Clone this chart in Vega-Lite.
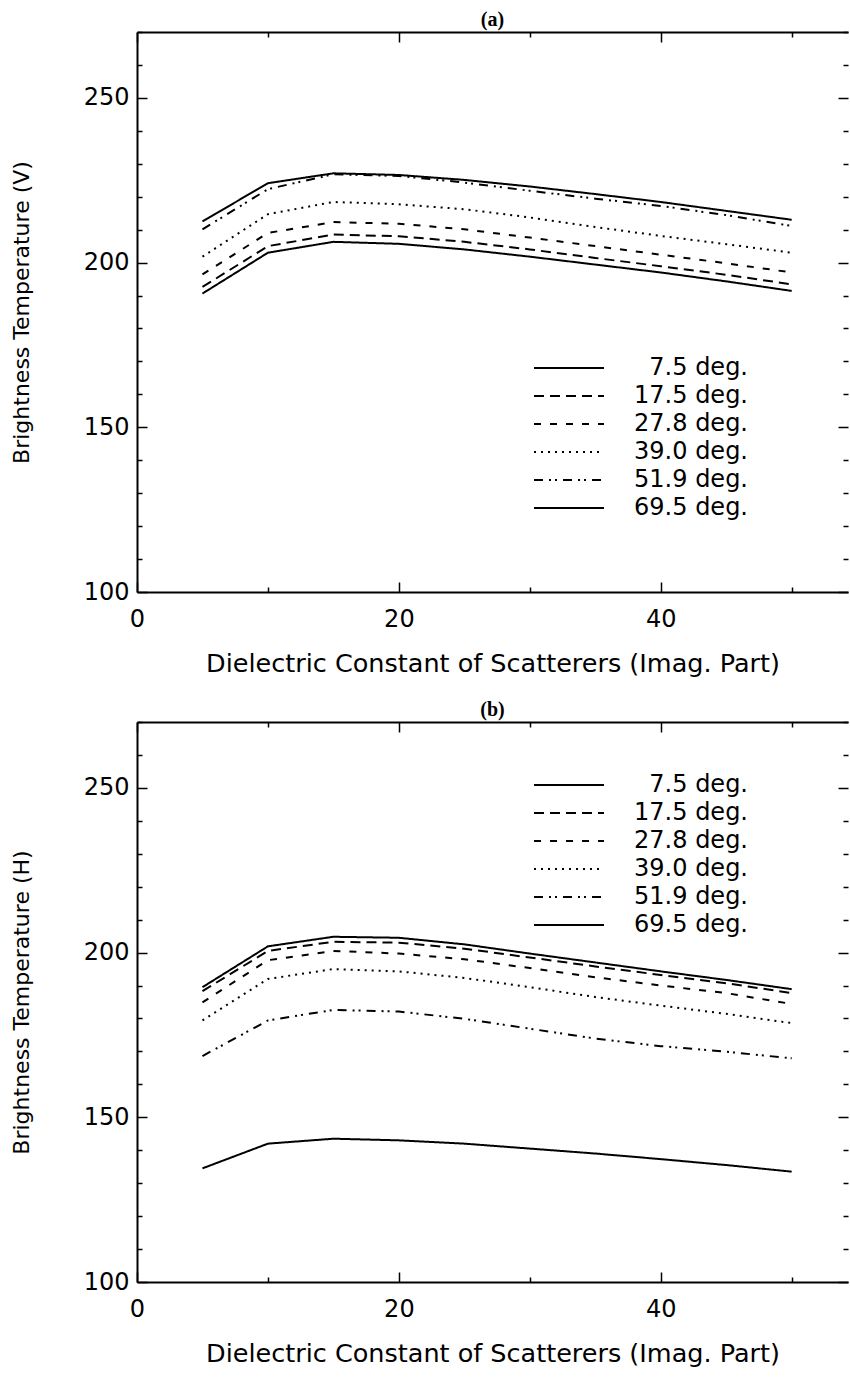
{
  "$schema": "https://vega.github.io/schema/vega-lite/v6.json",
  "padding": {"left": 10, "top": 10, "right": 0, "bottom": 0},
  "spacing": 23,
  "resolve": {"scale": {"strokeDash": "independent"}, "legend": {"strokeDash": "independent"}},
  "config": {
    "font": "DejaVu Sans",
    "view": {"stroke": null},
    "axis": {"grid": false, "domainColor": "black", "domainWidth": 2, "tickColor": "black", "tickWidth": 1.5, "labelColor": "black", "titleColor": "black", "labelFont": "DejaVu Sans", "titleFont": "DejaVu Sans", "labelFontSize": 24, "titleFontSize": 25.5, "titleFontWeight": "normal", "labelPadding": 18},
    "legend": {"orient": "none", "title": null, "symbolType": "M-5,0H5", "symbolSize": 196, "symbolStrokeWidth": 2, "symbolStrokeColor": "black", "symbolFillColor": "transparent", "labelFont": "DejaVu Sans", "labelFontSize": 24, "labelColor": "black", "labelAlign": "right", "labelOffset": 167, "rowPadding": 4, "labelLimit": 300},
    "title": {"font": "Liberation Serif", "fontWeight": "bold", "fontSize": 20, "offset": 1, "anchor": "middle", "color": "black"}
  },
  "datasets": {
    "V": [
      {"angle": "69.5 deg.", "e": 5, "tb": 212.5}, {"angle": "69.5 deg.", "e": 10, "tb": 224.1}, {"angle": "69.5 deg.", "e": 15, "tb": 227.1}, {"angle": "69.5 deg.", "e": 20, "tb": 226.6}, {"angle": "69.5 deg.", "e": 25, "tb": 225.1}, {"angle": "69.5 deg.", "e": 30, "tb": 223.1}, {"angle": "69.5 deg.", "e": 35, "tb": 220.8}, {"angle": "69.5 deg.", "e": 40, "tb": 218.4}, {"angle": "69.5 deg.", "e": 45, "tb": 215.7}, {"angle": "69.5 deg.", "e": 50, "tb": 213.0},
      {"angle": "51.9 deg.", "e": 5, "tb": 210.1}, {"angle": "51.9 deg.", "e": 10, "tb": 222.3}, {"angle": "51.9 deg.", "e": 15, "tb": 226.8}, {"angle": "51.9 deg.", "e": 20, "tb": 226.3}, {"angle": "51.9 deg.", "e": 25, "tb": 224.3}, {"angle": "51.9 deg.", "e": 30, "tb": 221.8}, {"angle": "51.9 deg.", "e": 35, "tb": 219.4}, {"angle": "51.9 deg.", "e": 40, "tb": 217.2}, {"angle": "51.9 deg.", "e": 45, "tb": 214.4}, {"angle": "51.9 deg.", "e": 50, "tb": 211.1},
      {"angle": "39.0 deg.", "e": 5, "tb": 201.8}, {"angle": "39.0 deg.", "e": 10, "tb": 214.7}, {"angle": "39.0 deg.", "e": 15, "tb": 218.4}, {"angle": "39.0 deg.", "e": 20, "tb": 217.7}, {"angle": "39.0 deg.", "e": 25, "tb": 216.2}, {"angle": "39.0 deg.", "e": 30, "tb": 213.7}, {"angle": "39.0 deg.", "e": 35, "tb": 210.8}, {"angle": "39.0 deg.", "e": 40, "tb": 208.1}, {"angle": "39.0 deg.", "e": 45, "tb": 205.6}, {"angle": "39.0 deg.", "e": 50, "tb": 203.0},
      {"angle": "27.8 deg.", "e": 5, "tb": 196.4}, {"angle": "27.8 deg.", "e": 10, "tb": 209.0}, {"angle": "27.8 deg.", "e": 15, "tb": 212.3}, {"angle": "27.8 deg.", "e": 20, "tb": 211.8}, {"angle": "27.8 deg.", "e": 25, "tb": 210.1}, {"angle": "27.8 deg.", "e": 30, "tb": 207.6}, {"angle": "27.8 deg.", "e": 35, "tb": 205.0}, {"angle": "27.8 deg.", "e": 40, "tb": 202.4}, {"angle": "27.8 deg.", "e": 45, "tb": 199.8}, {"angle": "27.8 deg.", "e": 50, "tb": 197.0},
      {"angle": "17.5 deg.", "e": 5, "tb": 192.6}, {"angle": "17.5 deg.", "e": 10, "tb": 205.0}, {"angle": "17.5 deg.", "e": 15, "tb": 208.5}, {"angle": "17.5 deg.", "e": 20, "tb": 208.0}, {"angle": "17.5 deg.", "e": 25, "tb": 206.3}, {"angle": "17.5 deg.", "e": 30, "tb": 204.0}, {"angle": "17.5 deg.", "e": 35, "tb": 201.4}, {"angle": "17.5 deg.", "e": 40, "tb": 198.9}, {"angle": "17.5 deg.", "e": 45, "tb": 196.3}, {"angle": "17.5 deg.", "e": 50, "tb": 193.4},
      {"angle": "7.5 deg.", "e": 5, "tb": 190.6}, {"angle": "7.5 deg.", "e": 10, "tb": 203.0}, {"angle": "7.5 deg.", "e": 15, "tb": 206.3}, {"angle": "7.5 deg.", "e": 20, "tb": 205.7}, {"angle": "7.5 deg.", "e": 25, "tb": 204.0}, {"angle": "7.5 deg.", "e": 30, "tb": 201.8}, {"angle": "7.5 deg.", "e": 35, "tb": 199.4}, {"angle": "7.5 deg.", "e": 40, "tb": 197.0}, {"angle": "7.5 deg.", "e": 45, "tb": 194.3}, {"angle": "7.5 deg.", "e": 50, "tb": 191.4}
    ],
    "H": [
      {"angle": "7.5 deg.", "e": 5, "tb": 189.5}, {"angle": "7.5 deg.", "e": 10, "tb": 201.9}, {"angle": "7.5 deg.", "e": 15, "tb": 204.8}, {"angle": "7.5 deg.", "e": 20, "tb": 204.5}, {"angle": "7.5 deg.", "e": 25, "tb": 202.5}, {"angle": "7.5 deg.", "e": 30, "tb": 199.7}, {"angle": "7.5 deg.", "e": 35, "tb": 197.0}, {"angle": "7.5 deg.", "e": 40, "tb": 194.3}, {"angle": "7.5 deg.", "e": 45, "tb": 191.7}, {"angle": "7.5 deg.", "e": 50, "tb": 188.9},
      {"angle": "17.5 deg.", "e": 5, "tb": 188.3}, {"angle": "17.5 deg.", "e": 10, "tb": 200.5}, {"angle": "17.5 deg.", "e": 15, "tb": 203.3}, {"angle": "17.5 deg.", "e": 20, "tb": 203.0}, {"angle": "17.5 deg.", "e": 25, "tb": 201.2}, {"angle": "17.5 deg.", "e": 30, "tb": 198.5}, {"angle": "17.5 deg.", "e": 35, "tb": 195.8}, {"angle": "17.5 deg.", "e": 40, "tb": 193.2}, {"angle": "17.5 deg.", "e": 45, "tb": 190.7}, {"angle": "17.5 deg.", "e": 50, "tb": 187.7},
      {"angle": "27.8 deg.", "e": 5, "tb": 184.9}, {"angle": "27.8 deg.", "e": 10, "tb": 197.7}, {"angle": "27.8 deg.", "e": 15, "tb": 200.5}, {"angle": "27.8 deg.", "e": 20, "tb": 199.7}, {"angle": "27.8 deg.", "e": 25, "tb": 198.0}, {"angle": "27.8 deg.", "e": 30, "tb": 195.3}, {"angle": "27.8 deg.", "e": 35, "tb": 192.5}, {"angle": "27.8 deg.", "e": 40, "tb": 190.0}, {"angle": "27.8 deg.", "e": 45, "tb": 187.7}, {"angle": "27.8 deg.", "e": 50, "tb": 184.4},
      {"angle": "39.0 deg.", "e": 5, "tb": 179.4}, {"angle": "39.0 deg.", "e": 10, "tb": 192.0}, {"angle": "39.0 deg.", "e": 15, "tb": 195.0}, {"angle": "39.0 deg.", "e": 20, "tb": 194.3}, {"angle": "39.0 deg.", "e": 25, "tb": 192.3}, {"angle": "39.0 deg.", "e": 30, "tb": 189.5}, {"angle": "39.0 deg.", "e": 35, "tb": 186.5}, {"angle": "39.0 deg.", "e": 40, "tb": 183.9}, {"angle": "39.0 deg.", "e": 45, "tb": 181.4}, {"angle": "39.0 deg.", "e": 50, "tb": 178.6},
      {"angle": "51.9 deg.", "e": 5, "tb": 168.6}, {"angle": "51.9 deg.", "e": 10, "tb": 179.4}, {"angle": "51.9 deg.", "e": 15, "tb": 182.6}, {"angle": "51.9 deg.", "e": 20, "tb": 182.1}, {"angle": "51.9 deg.", "e": 25, "tb": 179.9}, {"angle": "51.9 deg.", "e": 30, "tb": 176.9}, {"angle": "51.9 deg.", "e": 35, "tb": 173.9}, {"angle": "51.9 deg.", "e": 40, "tb": 171.6}, {"angle": "51.9 deg.", "e": 45, "tb": 169.9}, {"angle": "51.9 deg.", "e": 50, "tb": 167.9},
      {"angle": "69.5 deg.", "e": 5, "tb": 134.5}, {"angle": "69.5 deg.", "e": 10, "tb": 142.0}, {"angle": "69.5 deg.", "e": 15, "tb": 143.5}, {"angle": "69.5 deg.", "e": 20, "tb": 143.0}, {"angle": "69.5 deg.", "e": 25, "tb": 142.0}, {"angle": "69.5 deg.", "e": 30, "tb": 140.5}, {"angle": "69.5 deg.", "e": 35, "tb": 139.0}, {"angle": "69.5 deg.", "e": 40, "tb": 137.3}, {"angle": "69.5 deg.", "e": 45, "tb": 135.5}, {"angle": "69.5 deg.", "e": 50, "tb": 133.5}
    ]
  },
  "vconcat": [
    {
      "title": {"text": "(a)"},
      "width": 711,
      "height": 560,
      "data": {"name": "V"},
      "layer": [
        {
          "mark": {"type": "line", "strokeWidth": 2, "color": "black"},
          "encoding": {
            "x": {"field": "e", "type": "quantitative", "scale": {"domain": [0, 54.3], "nice": false, "zero": false},
              "axis": {"orient": "bottom", "values": [0, 10, 20, 30, 40, 50], "labelExpr": "datum.value % 20 === 0 ? datum.label : ''", "tickSize": {"condition": {"test": "datum.value % 20 === 0", "value": -10}, "value": -5}, "labelFlush": false, "labelPadding": 25, "title": "Dielectric Constant of Scatterers (Imag. Part)", "titlePadding": 20}},
            "y": {"field": "tb", "type": "quantitative", "scale": {"domain": [100, 270], "nice": false, "zero": false},
              "axis": {"orient": "left", "values": [100, 110, 120, 130, 140, 150, 160, 170, 180, 190, 200, 210, 220, 230, 240, 250, 260, 270], "labelExpr": "datum.value % 50 === 0 ? datum.label : ''", "tickSize": {"condition": {"test": "datum.value % 50 === 0", "value": -10}, "value": -5}, "title": "Brightness Temperature (V)", "titleFontSize": 22, "titlePadding": 50}},
            "strokeDash": {"field": "angle", "type": "nominal",
              "scale": {"domain": ["7.5 deg.", "17.5 deg.", "27.8 deg.", "39.0 deg.", "51.9 deg.", "69.5 deg."], "range": [[1, 0], [10, 6], [7, 9], [2, 5], [9, 6, 2, 4, 2, 6], [1, 0]]},
              "legend": {"legendX": 420, "legendY": 324}}
          }
        },
        {
          "mark": {"type": "line", "opacity": 0},
          "encoding": {
            "x": {"field": "e", "type": "quantitative", "axis": {"orient": "top", "values": [0, 10, 20, 30, 40, 50], "labels": false, "title": null, "tickSize": {"condition": {"test": "datum.value % 20 === 0", "value": -10}, "value": -5}}},
            "y": {"field": "tb", "type": "quantitative", "axis": {"orient": "right", "values": [100, 110, 120, 130, 140, 150, 160, 170, 180, 190, 200, 210, 220, 230, 240, 250, 260, 270], "labels": false, "title": null, "domain": false, "tickSize": {"condition": {"test": "datum.value % 50 === 0", "value": -10}, "value": -5}}},
            "detail": {"field": "angle"}
          }
        }
      ],
      "resolve": {"axis": {"x": "independent", "y": "independent"}}
    },
    {
      "title": {"text": "(b)"},
      "width": 711,
      "height": 560,
      "data": {"name": "H"},
      "layer": [
        {
          "mark": {"type": "line", "strokeWidth": 2, "color": "black"},
          "encoding": {
            "x": {"field": "e", "type": "quantitative", "scale": {"domain": [0, 54.3], "nice": false, "zero": false},
              "axis": {"orient": "bottom", "values": [0, 10, 20, 30, 40, 50], "labelExpr": "datum.value % 20 === 0 ? datum.label : ''", "tickSize": {"condition": {"test": "datum.value % 20 === 0", "value": -10}, "value": -5}, "labelFlush": false, "labelPadding": 25, "title": "Dielectric Constant of Scatterers (Imag. Part)", "titlePadding": 20}},
            "y": {"field": "tb", "type": "quantitative", "scale": {"domain": [100, 270], "nice": false, "zero": false},
              "axis": {"orient": "left", "values": [100, 110, 120, 130, 140, 150, 160, 170, 180, 190, 200, 210, 220, 230, 240, 250, 260, 270], "labelExpr": "datum.value % 50 === 0 ? datum.label : ''", "tickSize": {"condition": {"test": "datum.value % 50 === 0", "value": -10}, "value": -5}, "title": "Brightness Temperature (H)", "titleFontSize": 22, "titlePadding": 50}},
            "strokeDash": {"field": "angle", "type": "nominal",
              "scale": {"domain": ["7.5 deg.", "17.5 deg.", "27.8 deg.", "39.0 deg.", "51.9 deg.", "69.5 deg."], "range": [[1, 0], [10, 6], [7, 9], [2, 5], [9, 6, 2, 4, 2, 6], [1, 0]]},
              "legend": {"legendX": 420, "legendY": 51}}
          }
        },
        {
          "mark": {"type": "line", "opacity": 0},
          "encoding": {
            "x": {"field": "e", "type": "quantitative", "axis": {"orient": "top", "values": [0, 10, 20, 30, 40, 50], "labels": false, "title": null, "tickSize": {"condition": {"test": "datum.value % 20 === 0", "value": -10}, "value": -5}}},
            "y": {"field": "tb", "type": "quantitative", "axis": {"orient": "right", "values": [100, 110, 120, 130, 140, 150, 160, 170, 180, 190, 200, 210, 220, 230, 240, 250, 260, 270], "labels": false, "title": null, "domain": false, "tickSize": {"condition": {"test": "datum.value % 50 === 0", "value": -10}, "value": -5}}},
            "detail": {"field": "angle"}
          }
        }
      ],
      "resolve": {"axis": {"x": "independent", "y": "independent"}}
    }
  ]
}
